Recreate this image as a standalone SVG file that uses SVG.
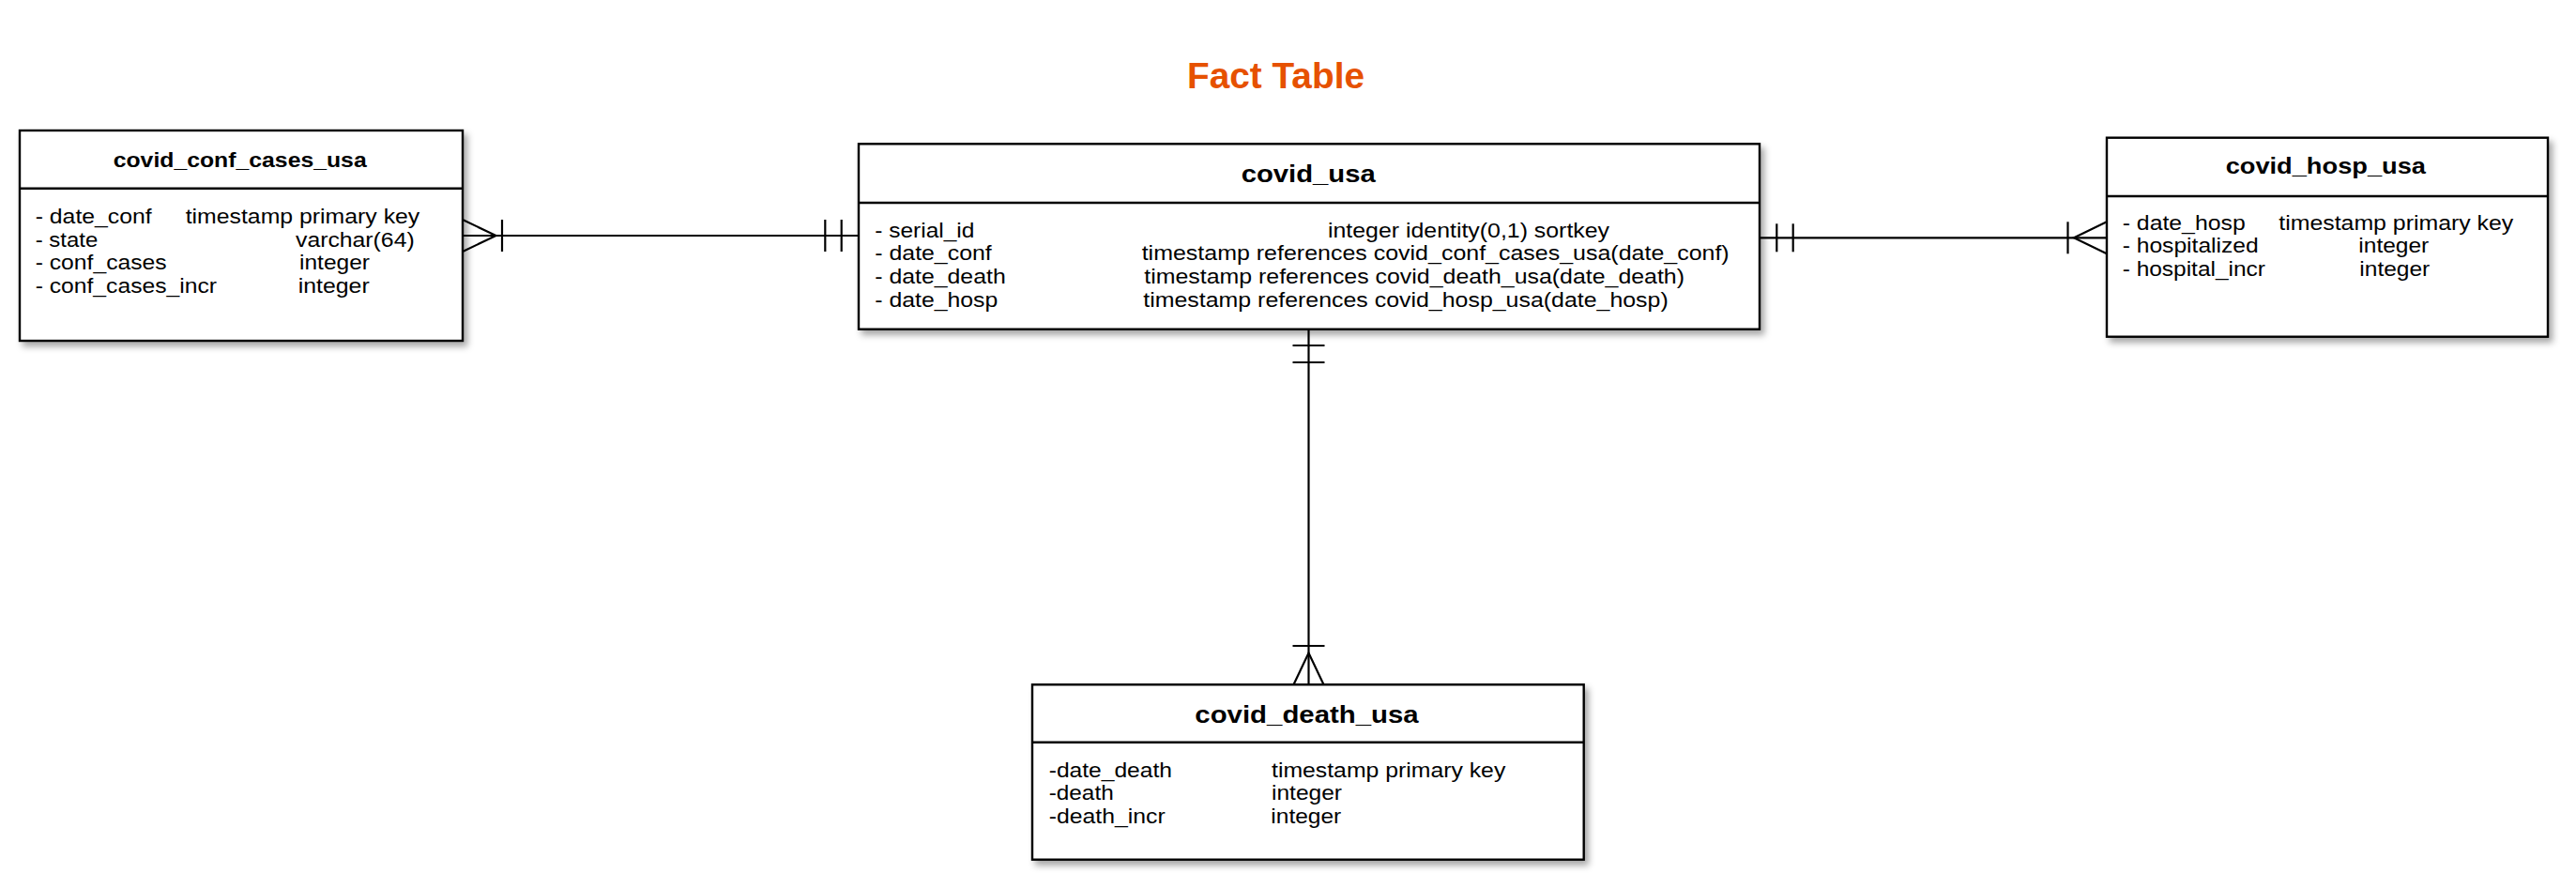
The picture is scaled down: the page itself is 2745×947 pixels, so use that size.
<svg xmlns="http://www.w3.org/2000/svg" width="2745" height="947" viewBox="0 0 2745 947">
<style>
.box{fill:#fff;stroke:#000;stroke-width:2.4;filter:url(#sh)}
.div{stroke:#000;stroke-width:2.4;fill:none}
.t{font-family:"Liberation Sans",Arial,sans-serif;font-weight:bold;fill:#000;text-anchor:middle}
.b{font-family:"Liberation Sans",Arial,sans-serif;font-size:21.5px;fill:#000}
.c{stroke:#000;stroke-width:2.2;fill:none}
</style>
<defs>
<filter id="sh" x="-5%" y="-10%" width="115%" height="130%">
<feDropShadow dx="4" dy="5" stdDeviation="3.5" flood-color="#000" flood-opacity="0.35"/>
</filter>
</defs>
<rect width="2745" height="947" fill="#fff"/>
<text x="1359.5" y="94" text-anchor="middle" font-family="Liberation Sans, Arial, sans-serif" font-weight="bold" font-size="38" fill="#E65100" textLength="189" lengthAdjust="spacingAndGlyphs">Fact Table</text>

<g id="connectors">
<!-- conf - usa -->
<line class="c" x1="493" y1="251" x2="915" y2="251"/>
<polyline class="c" points="493,234 528.5,251 493,268"/>
<line class="c" x1="535" y1="234" x2="535" y2="268"/>
<line class="c" x1="879.3" y1="234" x2="879.3" y2="268"/>
<line class="c" x1="896.7" y1="234" x2="896.7" y2="268"/>
<!-- usa - hosp -->
<line class="c" x1="1875" y1="253.3" x2="2245" y2="253.3"/>
<line class="c" x1="1893.3" y1="238.3" x2="1893.3" y2="268.3"/>
<line class="c" x1="1910.7" y1="238.3" x2="1910.7" y2="268.3"/>
<line class="c" x1="2203.5" y1="236.3" x2="2203.5" y2="270.3"/>
<polyline class="c" points="2245,236.3 2210,253.3 2245,270.3"/>
<!-- usa - death -->
<line class="c" x1="1394.5" y1="350.7" x2="1394.5" y2="729.3"/>
<line class="c" x1="1377.5" y1="368" x2="1411.5" y2="368"/>
<line class="c" x1="1377.5" y1="386" x2="1411.5" y2="386"/>
<line class="c" x1="1377.5" y1="688" x2="1411.5" y2="688"/>
<polyline class="c" points="1378.5,729.3 1394.5,695.5 1410.5,729.3"/>
</g>

<g id="covid_conf_cases_usa">
<rect class="box" x="21" y="139" width="472" height="224"/>
<line class="div" x1="21" y1="200.7" x2="493" y2="200.7"/>
<text class="t" x="255.7" y="178.3" font-size="22" textLength="270" lengthAdjust="spacingAndGlyphs">covid_conf_cases_usa</text>
<text class="b" x="37.7" y="238" textLength="124" lengthAdjust="spacingAndGlyphs">- date_conf</text>
<text class="b" x="197.7" y="238" textLength="249.6" lengthAdjust="spacingAndGlyphs">timestamp primary key</text>
<text class="b" x="37.7" y="262.5" textLength="66.6" lengthAdjust="spacingAndGlyphs">- state</text>
<text class="b" x="315" y="262.5" textLength="126.7" lengthAdjust="spacingAndGlyphs">varchar(64)</text>
<text class="b" x="37.7" y="287" textLength="140" lengthAdjust="spacingAndGlyphs">- conf_cases</text>
<text class="b" x="319" y="287" textLength="75" lengthAdjust="spacingAndGlyphs">integer</text>
<text class="b" x="37.7" y="311.5" textLength="193.3" lengthAdjust="spacingAndGlyphs">- conf_cases_incr</text>
<text class="b" x="317.7" y="311.5" textLength="76" lengthAdjust="spacingAndGlyphs">integer</text>
</g>

<g id="covid_usa">
<rect class="box" x="915" y="153.3" width="960" height="197.4"/>
<line class="div" x1="915" y1="216" x2="1875" y2="216"/>
<text class="t" x="1394.2" y="194" font-size="25.5" textLength="143" lengthAdjust="spacingAndGlyphs">covid_usa</text>
<text class="b" x="932.3" y="252.7" textLength="106" lengthAdjust="spacingAndGlyphs">- serial_id</text>
<text class="b" x="1415" y="252.7" textLength="300" lengthAdjust="spacingAndGlyphs">integer identity(0,1) sortkey</text>
<text class="b" x="932.3" y="277.3" textLength="124.4" lengthAdjust="spacingAndGlyphs">- date_conf</text>
<text class="b" x="1216.7" y="277.3" textLength="626" lengthAdjust="spacingAndGlyphs">timestamp references covid_conf_cases_usa(date_conf)</text>
<text class="b" x="932.3" y="302" textLength="139.4" lengthAdjust="spacingAndGlyphs">- date_death</text>
<text class="b" x="1219.3" y="302" textLength="575.7" lengthAdjust="spacingAndGlyphs">timestamp references covid_death_usa(date_death)</text>
<text class="b" x="932.3" y="326.5" textLength="131" lengthAdjust="spacingAndGlyphs">- date_hosp</text>
<text class="b" x="1218.3" y="326.5" textLength="559.4" lengthAdjust="spacingAndGlyphs">timestamp references covid_hosp_usa(date_hosp)</text>
</g>

<g id="covid_hosp_usa">
<rect class="box" x="2245" y="146.7" width="470" height="212"/>
<line class="div" x1="2245" y1="209" x2="2715" y2="209"/>
<text class="t" x="2478.3" y="185" font-size="24" textLength="213.3" lengthAdjust="spacingAndGlyphs">covid_hosp_usa</text>
<text class="b" x="2261.7" y="244.5" textLength="131" lengthAdjust="spacingAndGlyphs">- date_hosp</text>
<text class="b" x="2428.3" y="244.5" textLength="250" lengthAdjust="spacingAndGlyphs">timestamp primary key</text>
<text class="b" x="2261.7" y="269" textLength="145" lengthAdjust="spacingAndGlyphs">- hospitalized</text>
<text class="b" x="2513.3" y="269" textLength="75" lengthAdjust="spacingAndGlyphs">integer</text>
<text class="b" x="2261.7" y="293.5" textLength="152.3" lengthAdjust="spacingAndGlyphs">- hospital_incr</text>
<text class="b" x="2514.3" y="293.5" textLength="75" lengthAdjust="spacingAndGlyphs">integer</text>
</g>

<g id="covid_death_usa">
<rect class="box" x="1100" y="729.3" width="587.7" height="186.4"/>
<line class="div" x1="1100" y1="790.7" x2="1687.7" y2="790.7"/>
<text class="t" x="1392.5" y="770" font-size="25.5" textLength="238.3" lengthAdjust="spacingAndGlyphs">covid_death_usa</text>
<text class="b" x="1117.7" y="827.5" textLength="131.3" lengthAdjust="spacingAndGlyphs">-date_death</text>
<text class="b" x="1355" y="827.5" textLength="249.3" lengthAdjust="spacingAndGlyphs">timestamp primary key</text>
<text class="b" x="1117.7" y="852" textLength="69" lengthAdjust="spacingAndGlyphs">-death</text>
<text class="b" x="1355" y="852" textLength="75" lengthAdjust="spacingAndGlyphs">integer</text>
<text class="b" x="1117.7" y="876.5" textLength="124" lengthAdjust="spacingAndGlyphs">-death_incr</text>
<text class="b" x="1354.3" y="876.5" textLength="75" lengthAdjust="spacingAndGlyphs">integer</text>
</g>
</svg>
